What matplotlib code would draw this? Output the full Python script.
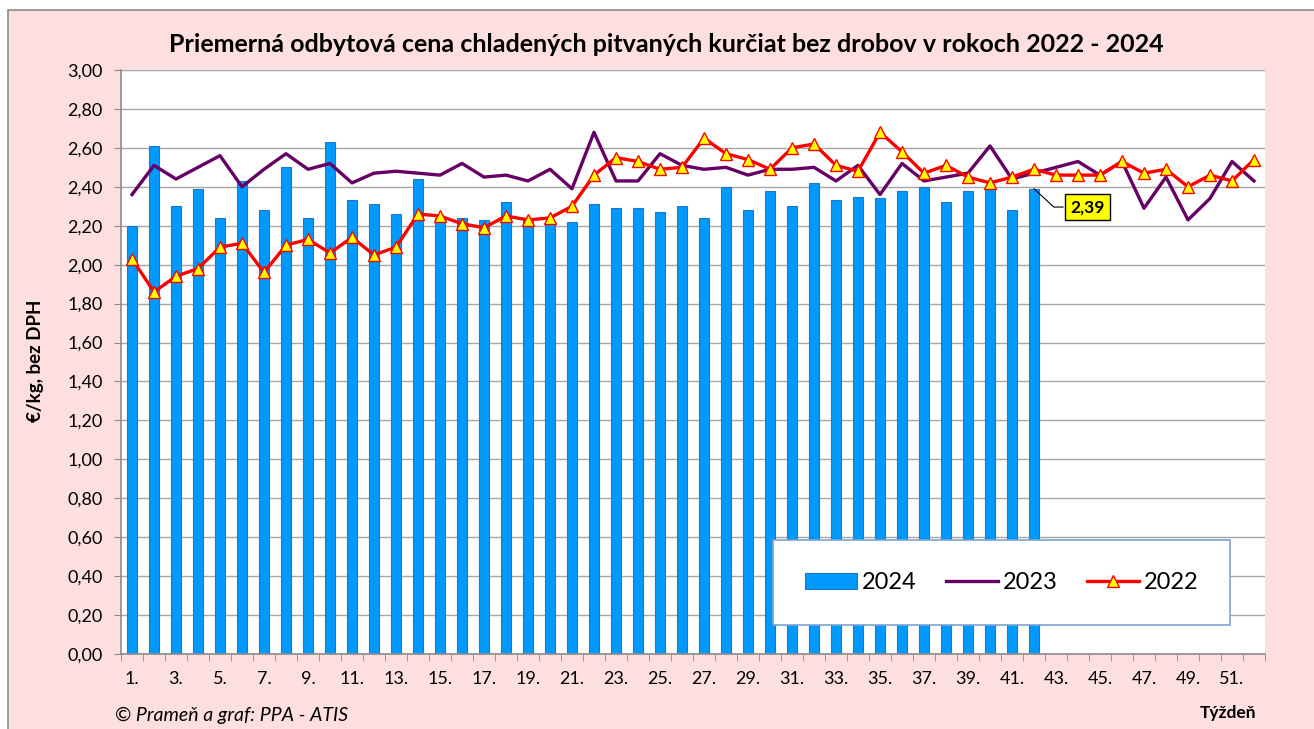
#!/usr/bin/env python3
"""Priemerná odbytová cena chladených pitvaných kurčiat 2022-2024."""

import matplotlib.pyplot as plt
import numpy as np
from matplotlib.patches import Rectangle

weeks = list(range(1, 53))

price_2024 = [
    2.20, 2.61, 2.30, 2.39, 2.24, 2.43, 2.28, 2.50, 2.24, 2.63,
    2.33, 2.31, 2.26, 2.44, 2.24, 2.24, 2.23, 2.32, 2.23, 2.22,
    2.22, 2.31, 2.29, 2.29, 2.27, 2.30, 2.24, 2.40, 2.28, 2.38,
    2.30, 2.42, 2.33, 2.35, 2.34, 2.38, 2.40, 2.32, 2.38, 2.40,
    2.28, 2.39,
]
price_2023 = [
    2.36, 2.51, 2.44, 2.50, 2.56, 2.40, 2.49, 2.57, 2.49, 2.52,
    2.42, 2.47, 2.48, 2.47, 2.46, 2.52, 2.45, 2.46, 2.43, 2.49,
    2.39, 2.68, 2.43, 2.43, 2.57, 2.51, 2.49, 2.50, 2.46, 2.49,
    2.49, 2.50, 2.43, 2.51, 2.36, 2.52, 2.43, 2.45, 2.47, 2.61,
    2.44, 2.47, 2.50, 2.53, 2.46, 2.53, 2.29, 2.45, 2.23, 2.34,
    2.53, 2.43,
]
price_2022 = [
    2.03, 1.86, 1.94, 1.98, 2.09, 2.11, 1.96, 2.10, 2.13, 2.06,
    2.14, 2.05, 2.09, 2.26, 2.25, 2.21, 2.19, 2.25, 2.23, 2.24,
    2.30, 2.46, 2.55, 2.53, 2.49, 2.50, 2.65, 2.57, 2.54, 2.49,
    2.60, 2.62, 2.51, 2.48, 2.68, 2.58, 2.47, 2.51, 2.45, 2.42,
    2.45, 2.49, 2.46, 2.46, 2.46, 2.53, 2.47, 2.49, 2.40, 2.46,
    2.43, 2.54,
]
week_labels = [f"{w}." if w % 2 == 1 else "" for w in weeks]
y_ticks = np.arange(0, 3.01, 0.2)

FONT = ["Lato", "DejaVu Sans"]


def main() -> None:
    plt.rcParams["font.family"] = FONT
    fig = plt.figure(figsize=(13.14, 7.29), dpi=100)
    fig.patch.set_facecolor("white")

    # pink chart area, behind the axes
    bg = Rectangle((8 / 1314, -0.01), 1.0, 1.01 - 10 / 729, transform=fig.transFigure,
                   facecolor="#FDDFDF", edgecolor="#8C8C8C", linewidth=1.2, zorder=-10)
    fig.add_artist(bg)

    ax = fig.add_axes([121 / 1314, 1 - 654 / 729, (1265 - 121) / 1314, (654 - 70) / 729])
    ax.set_facecolor("white")

    x = np.arange(len(weeks))
    bars = ax.bar(x[:len(price_2024)], price_2024, width=0.45, color="#0099FF", edgecolor="#1F77C8",
                  linewidth=0.8, label="2024", zorder=2)
    l23, = ax.plot(x, price_2023, color="#660066", linewidth=2.4, label="2023", zorder=3)
    l22, = ax.plot(x, price_2022, color="#FF0000", linewidth=2.4, marker="^", markersize=9,
                   markerfacecolor="#FFFF00", markeredgecolor="#FF0000", markeredgewidth=1.0,
                   label="2022", zorder=4)

    ax.set_xlim(-0.5, len(weeks) - 0.5)
    ax.set_ylim(0, 3.0)
    ax.set_yticks(y_ticks)
    ax.set_yticklabels([f"{v:.2f}".replace(".", ",") for v in y_ticks], fontsize=13)
    ax.set_xticks(x)
    ax.set_xticklabels(week_labels, fontsize=13)
    ax.set_xticks(np.arange(-0.5, len(weeks)), minor=True)
    ax.tick_params(axis="x", which="major", length=0, pad=12)
    ax.tick_params(axis="x", which="minor", length=5, color="#8C8C8C", direction="out")
    ax.tick_params(axis="y", length=5, color="#8C8C8C", pad=8)
    ax.grid(axis="y", color="#A6A6A6", linewidth=1.0, zorder=0)
    ax.set_axisbelow(True)
    for side in ("top", "right"):
        ax.spines[side].set_visible(False)
    for side in ("left", "bottom"):
        ax.spines[side].set_color("#8C8C8C")
        ax.spines[side].set_linewidth(1.2)

    # callout for last 2024 value: leader line + yellow box
    last = len(price_2024) - 1
    val = price_2024[-1]
    ly = val - 0.094
    ax.plot([last, last + 0.9, last + 1.32], [val, ly, ly], color="black", linewidth=0.8, zorder=6)
    ax.text(last + 1.64, ly, f"{val:.2f}".replace(".", ","), fontsize=12.5, fontweight="bold",
            ha="left", va="center", zorder=7,
            bbox=dict(boxstyle="square,pad=0.3", facecolor="#FFFF00", edgecolor="black", linewidth=1))

    leg = ax.legend([bars, l23, l22], ["2024", "2023", "2022"], loc="lower left",
                    bbox_to_anchor=((773 - 121) / 1144, (654 - 625) / 584, 457 / 1144, 88 / 584),
                    mode="expand", borderaxespad=0, ncol=3, fontsize=17, frameon=True,
                    fancybox=False, framealpha=1, borderpad=1.35, handlelength=2.2,
                    handletextpad=0.2, columnspacing=2.5)
    leg.get_frame().set_edgecolor("#7BA3D0")
    leg.get_frame().set_linewidth(1.2)
    leg.set_zorder(8)

    fig.text(666 / 1314, 1 - 45 / 729, "Priemerná odbytová cena chladených pitvaných kurčiat bez drobov v rokoch 2022 - 2024",
             ha="center", va="center", fontsize=18, fontweight="bold")
    fig.text(35 / 1314, 1 - 361 / 729, "€/kg, bez DPH", rotation=90, ha="center", va="center",
             fontsize=13.5, fontweight="bold")
    fig.text(115 / 1314, 1 - 715 / 729, "© Prameň a graf: PPA - ATIS", ha="left", va="center",
             fontsize=14, style="italic")
    fig.text(1228 / 1314, 1 - 713 / 729, "Týždeň", ha="center", va="center", fontsize=12.5,
             fontweight="bold")

    fig.savefig("out.png", dpi=100, facecolor="white")
    plt.close(fig)


if __name__ == "__main__":
    main()
